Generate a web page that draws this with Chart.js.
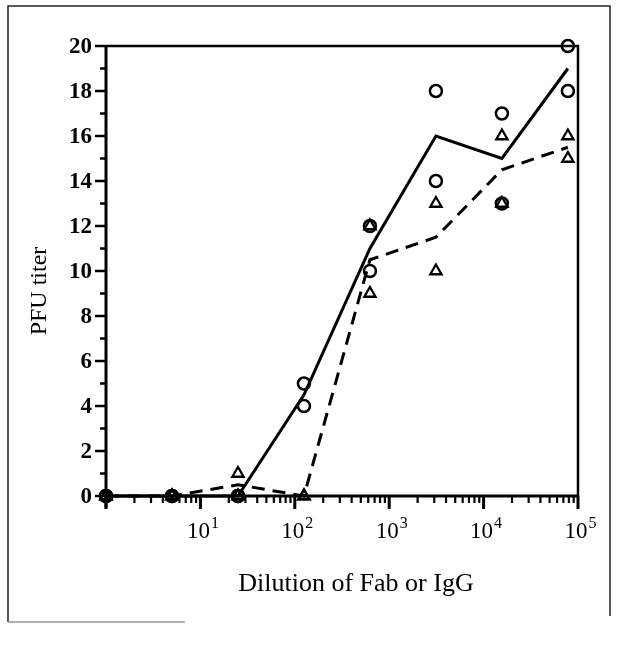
<!DOCTYPE html>
<html>
<head>
<meta charset="utf-8">
<script src="https://cdn.jsdelivr.net/npm/chart.js@4.4.0/dist/chart.umd.min.js"></script>
<style>
  html, body { margin: 0; padding: 0; background: #fff; }
  #wrap { width: 618px; height: 645px; }
</style>
</head>
<body>
<div id="wrap"><canvas id="chart" width="618" height="645"></canvas></div>
<script>
// 5-fold dilution series
const dilutions = [1, 5, 25, 125, 625, 3125, 15625, 78125];

// open circles (two replicates per dilution)
const circlesHigh = [0, 0, 0, 5, 12, 18, 17, 20];
const circlesLow  = [0, 0, 0, 4, 10, 14, 13, 18];

// open triangles (two replicates per dilution)
const trianglesHigh = [0, 0, 1, 0, 12, 13, 16, 16];
const trianglesLow  = [0, 0, 0, 0, 9, 10, 13, 15];

// mean lines
const solidLine  = [0, 0, 0, 4.5, 11, 16, 15, 19];
const dashedLine = [0, 0, 0.5, 0, 10.5, 11.5, 14.5, 15.5];

// axis ticks
const yTickValues = [0, 2, 4, 6, 8, 10, 12, 14, 16, 18, 20];
const xDecades = [1, 10, 100, 1000, 10000, 100000];
const xDecadeExponents = ['', '1', '2', '3', '4', '5'];

const yTitle = 'PFU titer';
const xTitle = 'Dilution of Fab or IgG';

const SERIF = "'Liberation Serif', 'DejaVu Serif', serif";

function toPoints(values) {
    return dilutions.map((d, i) => ({ x: d, y: values[i] }));
}

// draws the frame, tick marks, tick labels and titles from the chart's scales
const axesDecor = {
    id: 'axesDecor',
    beforeDatasetsDraw(chart) {
        const ctx = chart.ctx;
        const area = chart.chartArea;
        const xs = chart.scales.x;
        const ys = chart.scales.y;

        ctx.save();
        ctx.lineCap = 'butt';

        // outer figure frame
        ctx.lineWidth = 1.5;
        ctx.strokeStyle = '#222';
        ctx.beginPath();
        ctx.moveTo(8, 622);
        ctx.lineTo(8, 6);
        ctx.lineTo(610, 6);
        ctx.lineTo(610, 616);
        ctx.stroke();
        ctx.strokeStyle = '#999';
        ctx.beginPath();
        ctx.moveTo(8, 622);
        ctx.lineTo(185, 622);
        ctx.stroke();

        ctx.strokeStyle = '#000';

        // top and right border of plot
        ctx.lineWidth = 2.5;
        ctx.beginPath();
        ctx.moveTo(area.left, area.top);
        ctx.lineTo(area.right, area.top);
        ctx.lineTo(area.right, area.bottom);
        ctx.stroke();

        // left and bottom axes
        ctx.lineWidth = 3;
        ctx.beginPath();
        ctx.moveTo(area.left, area.top - 1);
        ctx.lineTo(area.left, area.bottom + 12);
        ctx.moveTo(area.left, area.bottom);
        ctx.lineTo(area.right + 1, area.bottom);
        ctx.stroke();

        // y ticks (major every 2, minor every 1)
        ctx.lineWidth = 2.5;
        for (let v = 0; v <= 20; v++) {
            const py = ys.getPixelForValue(v);
            const len = v % 2 === 0 ? 11 : 6;
            ctx.beginPath();
            ctx.moveTo(area.left - len, py);
            ctx.lineTo(area.left, py);
            ctx.stroke();
        }

        // x ticks (log decades with 2..9 minors)
        for (let i = 0; i < xDecades.length; i++) {
            const d = xDecades[i];
            const steps = i === xDecades.length - 1 ? 1 : 9;
            for (let m = 1; m <= steps; m++) {
                const px = xs.getPixelForValue(d * m);
                const len = m === 1 ? 13 : 7;
                ctx.lineWidth = m === 1 ? 3 : 2.2;
                ctx.beginPath();
                ctx.moveTo(px, area.bottom);
                ctx.lineTo(px, area.bottom + len);
                ctx.stroke();
            }
        }

        // y tick labels
        ctx.fillStyle = '#000';
        ctx.font = 'bold 23px ' + SERIF;
        ctx.textAlign = 'right';
        ctx.textBaseline = 'middle';
        yTickValues.forEach(v => {
            ctx.fillText(String(v), area.left - 14, ys.getPixelForValue(v) + 1);
        });

        // x tick labels: 10 with superscript exponent
        ctx.textBaseline = 'alphabetic';
        ctx.textAlign = 'left';
        xDecades.forEach((d, i) => {
            const exp = xDecadeExponents[i];
            if (!exp) return;
            const px = xs.getPixelForValue(d);
            ctx.font = '23px ' + SERIF;
            const wBase = ctx.measureText('10').width;
            ctx.font = '16px ' + SERIF;
            const wExp = ctx.measureText(exp).width;
            const x0 = px - (wBase + wExp) / 2 + 2;
            ctx.font = '23px ' + SERIF;
            ctx.fillText('10', x0, area.bottom + 42);
            ctx.font = '16px ' + SERIF;
            ctx.fillText(exp, x0 + wBase + 1, area.bottom + 32);
        });

        // axis titles
        ctx.font = '26px ' + SERIF;
        ctx.textAlign = 'center';
        ctx.textBaseline = 'middle';
        ctx.fillText(xTitle, 356, area.bottom + 88);

        ctx.save();
        ctx.translate(40, (area.top + area.bottom) / 2 + 20);
        ctx.rotate(-Math.PI / 2);
        ctx.font = '24px ' + SERIF;
        ctx.fillText(yTitle, 0, 0);
        ctx.restore();

        ctx.restore();
    }
};

const markerCircle = {
    showLine: false,
    pointStyle: 'circle',
    pointRadius: 6,
    pointBorderWidth: 2.5,
    pointBorderColor: '#000',
    pointBackgroundColor: 'rgba(0,0,0,0)',
    clip: false
};

const markerTriangle = {
    showLine: false,
    pointStyle: 'triangle',
    pointRadius: 6.5,
    pointBorderWidth: 2.3,
    pointBorderColor: '#000',
    pointBackgroundColor: 'rgba(0,0,0,0)',
    clip: false
};

new Chart(document.getElementById('chart'), {
    type: 'scatter',
    data: {
        datasets: [
            {
                label: 'Circle mean',
                data: toPoints(solidLine),
                showLine: true,
                borderColor: '#000',
                borderWidth: 3,
                pointRadius: 0,
                tension: 0,
                clip: false
            },
            {
                label: 'Triangle mean',
                data: toPoints(dashedLine),
                showLine: true,
                borderColor: '#000',
                borderWidth: 3,
                borderDash: [13, 8],
                pointRadius: 0,
                tension: 0,
                clip: false
            },
            Object.assign({ label: 'Circles A', data: toPoints(circlesHigh) }, markerCircle),
            Object.assign({ label: 'Circles B', data: toPoints(circlesLow) }, markerCircle),
            Object.assign({ label: 'Triangles A', data: toPoints(trianglesHigh) }, markerTriangle),
            Object.assign({ label: 'Triangles B', data: toPoints(trianglesLow) }, markerTriangle)
        ]
    },
    options: {
        responsive: false,
        animation: false,
        layout: {
            padding: { left: 106, top: 46, right: 40, bottom: 149 }
        },
        plugins: {
            legend: { display: false },
            tooltip: { enabled: false }
        },
        scales: {
            x: { type: 'logarithmic', min: 1, max: 100000, display: false },
            y: { type: 'linear', min: 0, max: 20, display: false }
        }
    },
    plugins: [axesDecor]
});
</script>
</body>
</html>
